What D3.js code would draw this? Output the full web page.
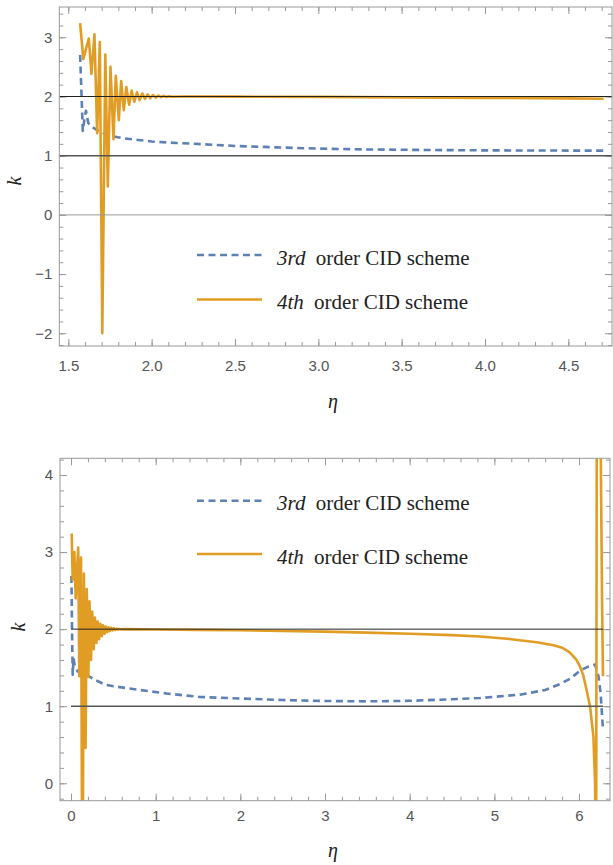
<!DOCTYPE html>
<html>
<meta charset="utf-8">
<head>
    <script src="https://d3js.org/d3.v7.min.js"></script>
</head>

<style>
  body { margin: 0; background: #fff; }
  svg .frame { fill: none; stroke: #999; stroke-width: 1; }
  svg .tick line { stroke: #999; }
  svg .tick text { fill: #555; font: 15px "Liberation Sans", Arial, sans-serif; }
  svg .domain { display: none; }
  svg .series { fill: none; stroke-linejoin: round; }
  svg .s3 { stroke: #5E81B5; stroke-width: 2.6; stroke-dasharray: 7 4.5; }
  svg .s4 { stroke: #E19C24; stroke-width: 2.6; }
  svg .axis-label { font: italic 20px "Liberation Serif", "DejaVu Serif", serif; fill: #222; }
  svg .legend text { font: 21px "Liberation Serif", "DejaVu Serif", serif; fill: #222; }
</style>

<body>
<script>

// ---- top panel data (eta in [pi/2, 3pi/2]) ----
var topThird = [
  [1.571, 2.70], [1.579, 2.05], [1.587, 1.42], [1.597, 1.62], [1.606, 1.76],
  [1.620, 1.55], [1.645, 1.48], [1.680, 1.42], [1.720, 1.37], [1.760, 1.33],
  [1.840, 1.29], [1.920, 1.265], [2.000, 1.24], [2.150, 1.215], [2.300, 1.195],
  [2.500, 1.165], [2.750, 1.14], [3.000, 1.12], [3.300, 1.105], [3.670, 1.096],
  [4.000, 1.09], [4.400, 1.087], [4.712, 1.085]
];
var topFourth = [
  [1.571, 3.24], [1.590, 2.63], [1.623, 2.98], [1.639, 2.38], [1.657, 3.05],
  [1.673, 1.38], [1.689, 2.92], [1.704, -2.00], [1.722, 2.71], [1.737, 0.48],
  [1.753, 2.50], [1.771, 1.28], [1.785, 2.35], [1.803, 1.60], [1.817, 2.26],
  [1.833, 1.77], [1.848, 2.16], [1.865, 1.86], [1.880, 2.10], [1.896, 1.91],
  [1.912, 2.07], [1.928, 1.94], [1.944, 2.05], [1.960, 1.96], [1.976, 2.035],
  [1.992, 1.97], [2.008, 2.025], [2.024, 1.98], [2.040, 2.015], [2.056, 1.988],
  [2.072, 2.01], [2.088, 1.993], [2.104, 2.005], [2.120, 1.997], [2.200, 2.0],
  [2.500, 1.998], [3.000, 1.993], [3.500, 1.985], [4.000, 1.977], [4.500, 1.968],
  [4.712, 1.962]
];
var topRefLevels = [0, 1, 2];
var topXTicks = [1.5, 2.0, 2.5, 3.0, 3.5, 4.0, 4.5];
var topXLabels = ["1.5", "2.0", "2.5", "3.0", "3.5", "4.0", "4.5"];
var topYTicks = [-2, -1, 0, 1, 2, 3];
var topYLabels = ["\u22122", "\u22121", "0", "1", "2", "3"];

// ---- bottom panel data (eta in [0, 2pi]) ----
var botThird = [
  [0.005, 2.69], [0.012, 2.00], [0.020, 1.41], [0.030, 1.62], [0.045, 1.52],
  [0.080, 1.45], [0.120, 1.42], [0.210, 1.39], [0.270, 1.35], [0.400, 1.28],
  [0.500, 1.26], [0.815, 1.21], [1.130, 1.165], [1.520, 1.12], [2.000, 1.10],
  [2.500, 1.08], [3.000, 1.068], [3.500, 1.063], [4.000, 1.07], [4.500, 1.09],
  [4.830, 1.106], [5.300, 1.15], [5.600, 1.21], [5.780, 1.29], [5.900, 1.36],
  [6.010, 1.46], [6.100, 1.51], [6.190, 1.54], [6.230, 1.39], [6.255, 1.17],
  [6.283, 0.70]
];
var botFourth = [
  [0.008, 3.24], [0.020, 2.64], [0.040, 3.00], [0.055, 2.40], [0.085, 3.06],
  [0.098, 1.39], [0.118, 2.93], [0.135, -2.00], [0.152, 2.72], [0.172, 0.46],
  [0.186, 2.52], [0.205, 1.38], [0.218, 2.36], [0.236, 1.60], [0.250, 2.23],
  [0.268, 1.74], [0.282, 2.15], [0.300, 1.82], [0.314, 2.10], [0.332, 1.87],
  [0.346, 2.07], [0.364, 1.91], [0.378, 2.05], [0.396, 1.94], [0.410, 2.035],
  [0.428, 1.96], [0.442, 2.025], [0.460, 1.975], [0.474, 2.018], [0.492, 1.985],
  [0.506, 2.012], [0.524, 1.99], [0.540, 2.007], [0.556, 1.994], [0.572, 2.004],
  [0.588, 1.997], [0.650, 2.0], [1.000, 1.995], [1.500, 1.99], [2.000, 1.985],
  [2.500, 1.977], [3.000, 1.968], [3.500, 1.955], [4.000, 1.94], [4.500, 1.922],
  [4.830, 1.905], [5.200, 1.87], [5.500, 1.83], [5.700, 1.79], [5.800, 1.76],
  [5.890, 1.70], [5.970, 1.60], [6.010, 1.52], [6.050, 1.40], [6.080, 1.26],
  [6.130, 1.00], [6.170, 0.61], [6.190, 0.00],
  [6.200, -3.00], [6.215, 9.00], [6.256, 4.40], [6.272, 2.40], [6.283, 1.39]
];
var botRefLevels = [1, 2];
var botXTicks = [0, 1, 2, 3, 4, 5, 6];
var botXLabels = ["0", "1", "2", "3", "4", "5", "6"];
var botYTicks = [0, 1, 2, 3, 4];
var botYLabels = ["0", "1", "2", "3", "4"];

var legendNames = [["3rd", " order CID scheme"], ["4th", " order CID scheme"]];

var width = 613, height = 865;

var svg = d3.select("body").append("svg")
    .attr("width", width)
    .attr("height", height);

var refStyle = {0: ["#999", 1], 1: ["#555", 1.4], 2: ["#222", 1]};

function minorTicks(domain, step) {
  var out = [];
  var start = Math.ceil(domain[0] / step - 1e-9);
  for (var i = start; i * step <= domain[1] + 1e-9; i++) out.push(+(i * step).toFixed(6));
  return out;
}

function drawPanel(p) {
  var g = svg.append("g");
  var x = d3.scaleLinear().domain(p.xDom).range([p.left, p.right]);
  var y = d3.scaleLinear().domain(p.yDom).range([p.bottom, p.top]);

  var xMinor = minorTicks(p.xDom, p.xStep), yMinor = minorTicks(p.yDom, p.yStep);

  // frame ticks, pointing inward on all four sides
  function ax(gen, scale, vals, len, labels, tx, ty, pad) {
    var a = gen(scale).tickValues(vals).tickSizeInner(-len).tickSizeOuter(0)
      .tickPadding(pad || 0)
      .tickFormat(labels ? function(d, i) { return labels[i]; } : "");
    g.append("g").attr("transform", "translate(" + tx + "," + ty + ")").call(a);
  }
  ax(d3.axisBottom, x, xMinor, 4, null, 0, p.bottom);
  ax(d3.axisBottom, x, p.xTicks, 7, p.xLabels, 0, p.bottom, p.xPad);
  ax(d3.axisTop, x, xMinor, 4, null, 0, p.top);
  ax(d3.axisTop, x, p.xTicks, 7, null, 0, p.top);
  ax(d3.axisLeft, y, yMinor, 4, null, p.left, 0);
  ax(d3.axisLeft, y, p.yTicks, 7, p.yLabels, p.left, 0, 7);
  ax(d3.axisRight, y, yMinor, 4, null, p.right, 0);
  ax(d3.axisRight, y, p.yTicks, 7, null, p.right, 0);

  var clipId = "clip" + p.id;
  svg.append("clipPath").attr("id", clipId).append("rect")
    .attr("x", p.left).attr("y", p.top)
    .attr("width", p.right - p.left).attr("height", p.bottom - p.top);

  var plot = g.append("g").attr("clip-path", "url(#" + clipId + ")");
  var line = d3.line().x(function(d) { return x(d[0]); }).y(function(d) { return y(d[1]); });

  plot.append("path").datum(p.third).attr("class", "series s3").attr("d", line);
  plot.append("path").datum(p.fourth).attr("class", "series s4").attr("d", line);

  plot.selectAll("line.ref").data(p.refs).enter().append("line")
    .attr("class", "ref")
    .attr("x1", x(p.refSpan[0])).attr("x2", x(p.refSpan[1]))
    .attr("y1", function(d) { return y(d); }).attr("y2", function(d) { return y(d); })
    .attr("stroke", function(d) { return refStyle[d][0]; })
    .attr("stroke-width", function(d) { return refStyle[d][1]; });

  g.append("rect").attr("class", "frame")
    .attr("x", p.left).attr("y", p.top)
    .attr("width", p.right - p.left).attr("height", p.bottom - p.top);

  // legend
  var lg = g.append("g").attr("class", "legend");
  p.legendY.forEach(function(ly, i) {
    lg.append("line")
      .attr("class", "series " + (i === 0 ? "s3" : "s4"))
      .attr("x1", 197).attr("x2", 262).attr("y1", ly).attr("y2", ly);
    var t = lg.append("text").attr("x", 277).attr("y", ly + 9.5);
    t.append("tspan").style("font-style", "italic").text(legendNames[i][0]);
    t.append("tspan").attr("dx", 5).text(legendNames[i][1]);
  });

  // axis labels
  g.append("text").attr("class", "axis-label")
    .attr("text-anchor", "middle")
    .attr("transform", "translate(" + p.kPos[0] + "," + p.kPos[1] + ") rotate(-90)")
    .attr("dy", "0.3em")
    .text("k");
  g.append("text").attr("class", "axis-label")
    .attr("text-anchor", "middle")
    .attr("x", p.etaPos[0]).attr("y", p.etaPos[1])
    .text("\u03b7");
}

drawPanel({
  id: "top", left: 59.3, right: 612, top: 7, bottom: 346,
  xDom: [1.446, 4.762], yDom: [-2.215, 3.512], xStep: 0.1, yStep: 0.2,
  xTicks: topXTicks, xLabels: topXLabels, yTicks: topYTicks, yLabels: topYLabels,
  xPad: 14, third: topThird, fourth: topFourth,
  refs: topRefLevels, refSpan: [1.446, 4.762],
  legendY: [255, 299.5], kPos: [15, 181], etaPos: [333, 408]
});

drawPanel({
  id: "bot", left: 60, right: 610, top: 458.3, bottom: 800.7,
  xDom: [-0.13, 6.366], yDom: [-0.226, 4.217], xStep: 0.2, yStep: 0.2,
  xTicks: botXTicks, xLabels: botXLabels, yTicks: botYTicks, yLabels: botYLabels,
  xPad: 10, third: botThird, fourth: botFourth,
  refs: botRefLevels, refSpan: [0, 6.283],
  legendY: [500.7, 554], kPos: [19, 627], etaPos: [333, 857]
});

</script>
</body>
</html>
